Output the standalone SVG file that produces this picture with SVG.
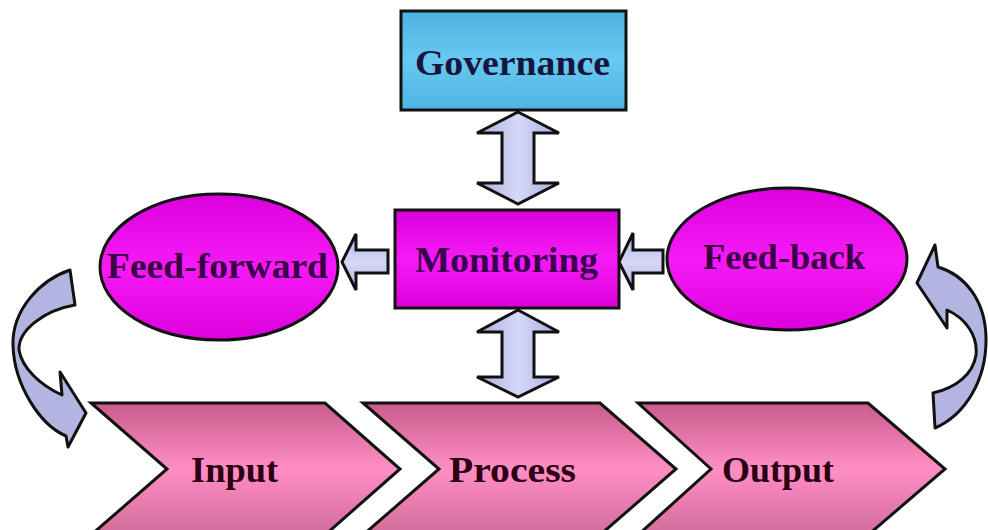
<svg xmlns="http://www.w3.org/2000/svg" width="988" height="530" viewBox="0 0 988 530">
  <defs>
    <linearGradient id="gBlue" x1="0" y1="0" x2="0" y2="1">
      <stop offset="0" stop-color="#4DB2E2"/>
      <stop offset="0.5" stop-color="#68C8F0"/>
      <stop offset="1" stop-color="#4FB4E4"/>
    </linearGradient>
    <linearGradient id="gMag" x1="0" y1="0" x2="0" y2="1">
      <stop offset="0" stop-color="#DC00DC"/>
      <stop offset="0.5" stop-color="#F61AF6"/>
      <stop offset="1" stop-color="#DC00DC"/>
    </linearGradient>
    <linearGradient id="gPink" x1="0" y1="0" x2="0" y2="1">
      <stop offset="0" stop-color="#C85C8C"/>
      <stop offset="0.5" stop-color="#FF8EC4"/>
      <stop offset="1" stop-color="#D26C9C"/>
    </linearGradient>
    <linearGradient id="gLavV" x1="0" y1="0" x2="1" y2="0">
      <stop offset="0" stop-color="#A9ADDC"/>
      <stop offset="0.5" stop-color="#D6D8F8"/>
      <stop offset="1" stop-color="#A9ADDC"/>
    </linearGradient>
    <linearGradient id="gLavH" x1="0" y1="0" x2="0" y2="1">
      <stop offset="0" stop-color="#B0B4E2"/>
      <stop offset="0.5" stop-color="#D6D8F8"/>
      <stop offset="1" stop-color="#B0B4E2"/>
    </linearGradient>
  </defs>
  <style>
    .box { stroke: #111; stroke-width: 3; }
    .arr { stroke: #111; stroke-width: 3; stroke-linejoin: miter; }
    .curve { fill: #B2B5E0; stroke: #111; stroke-width: 3; stroke-linejoin: round; }
    .chev { fill: url(#gPink); stroke: #111; stroke-width: 3; stroke-linejoin: miter; }
    .lbl { font-family: "Liberation Serif", "Times New Roman", serif; font-weight: bold; font-size: 35px; text-anchor: start; }
  </style>
  <rect width="988" height="530" fill="#FFFFFF"/>

  <g id="connectors">
    <path class="arr" fill="url(#gLavV)" d="M518,112 L559,133 L534,133 L534,183 L559,183 L518,204 L477,183 L502,183 L502,133 L477,133 Z"/>
    <path class="arr" fill="url(#gLavV)" d="M518,310 L559,332 L534,332 L534,377 L559,377 L518,397 L477,377 L502,377 L502,332 L477,332 Z"/>
    <path class="arr" fill="url(#gLavH)" d="M342,262 L356,234 L356,250 L388,250 L388,273 L356,273 L356,290 Z"/>
    <path class="arr" fill="url(#gLavH)" d="M619,262 L633,233 L633,250 L663,250 L663,273 L633,273 L633,290 Z"/>
    <path class="curve" d="M70,270 C40,280 12,310 13,345 C14,385 40,425 66,436 L68,447 L86,413 L60,372 L62,395 C40,385 22,368 19,350 C18,330 45,310 75,305 Z"/>
    <path class="curve" d="M935,428 C965,415 987,380 986,337 C985,300 965,275 938,267 L935,245 L917,283 L947,328 L947,310 C965,318 978,335 976,355 C973,375 955,388 933,393 Z"/>
  </g>

  <g id="governance">
    <rect class="box" x="401" y="11" width="225" height="99" fill="url(#gBlue)"/>
    <text class="lbl" x="415" y="75" fill="#15153E" textLength="195" lengthAdjust="spacingAndGlyphs">Governance</text>
  </g>

  <g id="monitoring">
    <rect class="box" x="395" y="210" width="224" height="98" fill="url(#gMag)"/>
    <text class="lbl" x="415" y="272" fill="#3A0050" textLength="183" lengthAdjust="spacingAndGlyphs">Monitoring</text>
  </g>

  <g id="feed-forward">
    <ellipse class="box" cx="219" cy="267" rx="119" ry="73" fill="url(#gMag)" stroke="#220022"/>
    <text class="lbl" x="107" y="278" fill="#3A0046" textLength="221" lengthAdjust="spacingAndGlyphs">Feed-forward</text>
  </g>

  <g id="feed-back">
    <ellipse class="box" cx="787" cy="259" rx="120" ry="71" fill="url(#gMag)" stroke="#220022"/>
    <text class="lbl" x="703" y="269" fill="#3A0046" textLength="162" lengthAdjust="spacingAndGlyphs">Feed-back</text>
  </g>

  <g id="input">
    <path class="chev" d="M91,403 L325,403 L400,469 L325,535 L91,535 L167,469 Z"/>
    <text class="lbl" x="191" y="482" fill="#2A0012" textLength="87" lengthAdjust="spacingAndGlyphs">Input</text>
  </g>

  <g id="process">
    <path class="chev" d="M363,403 L600,403 L676,469 L600,535 L363,535 L439,469 Z"/>
    <text class="lbl" x="449" y="482" fill="#2A0012" textLength="127" lengthAdjust="spacingAndGlyphs">Process</text>
  </g>

  <g id="output">
    <path class="chev" d="M638,403 L868,403 L945,469 L868,535 L638,535 L711,469 Z"/>
    <text class="lbl" x="722" y="482" fill="#2A0012" textLength="112" lengthAdjust="spacingAndGlyphs">Output</text>
  </g>
</svg>
